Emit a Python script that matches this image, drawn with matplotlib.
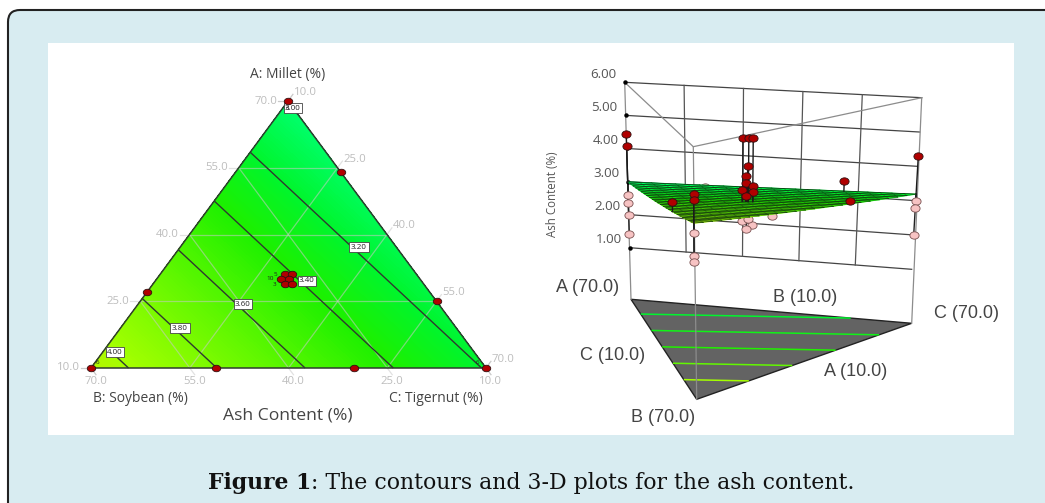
import numpy as np
import matplotlib
matplotlib.use("Agg")
import matplotlib.pyplot as plt
from matplotlib.colors import LinearSegmentedColormap, Normalize
from matplotlib.markers import MarkerStyle
from matplotlib.patches import FancyBboxPatch, Rectangle
from matplotlib.transforms import Affine2D
from matplotlib.tri import Triangulation

# values
corner_ash = [2.99, 4.085, 3.19]  # predicted ash at pure A, B, C corners
floor_ash = [3.02, 4.24, 3.25]  # same, as the floor projection shows it
contour_levels = [3.00, 3.20, 3.40, 3.60, 3.80, 4.00]
contour_labels = ["3.00", "3.20", "3.40", "3.60", "3.80", "4.00"]
tern_ticks = [10, 25, 40, 55, 70]

# design points on the ternary plot (percent)
design_a = [70, 54, 25, 10, 10, 27, 10, 10, 31.1, 31.1, 30, 30, 28.9, 28.9]
design_b = [10, 10, 10, 10, 30, 53, 51, 70, 30, 28.9, 31.1, 29.9, 31.1, 30]
design_c = [10, 26, 55, 70, 50, 10, 29, 10, 28.9, 30, 28.9, 30.1, 30, 31.1]

# runs above the surface in the 3-D plot
red_a = [70, 70, 10, 10, 10, 29.2, 25, 10, 30.7, 29.5, 28.6, 29.7, 30, 30, 28.6, 30.8, 28.6, 30]
red_b = [10, 10, 70, 70, 10, 50.8, 10, 28, 30, 30, 30, 30, 30, 30, 30, 30, 30, 30]
red_c = [10, 10, 10, 10, 70, 10, 55, 52, 29.3, 30.5, 31.4, 30.3, 30, 30, 31.4, 29.2, 31.4, 30]
red_z = [4.44, 4.06, 4.83, 4.66, 4.29, 3.98, 3.45, 3.55, 5.18, 5.18, 5.21, 4.40, 4.13, 3.94, 3.87, 3.73, 3.69, 3.57]

# runs below the surface
pink_a = [70, 70, 70, 70, 10, 10, 10, 10, 10, 10, 54, 10, 30.8, 28.8, 29.9, 29.6]
pink_b = [10, 10, 10, 10, 70, 70, 70, 10, 10, 10, 10, 49, 30, 30, 30, 30]
pink_c = [10, 10, 10, 10, 10, 10, 10, 70, 70, 70, 26, 31, 29.2, 31.2, 30.1, 30.4]
pink_z = [2.60, 2.34, 1.99, 1.41, 3.85, 3.28, 3.11, 2.99, 2.80, 2.01, 3.00, 3.73, 2.85, 2.76, 2.65, 2.94]

z_ticks = [1, 2, 3, 4, 5, 6]

# layout, in picture pixels
T_A, T_B, T_C = (288, 101), (91, 368), (486, 368)
P1 = np.array([(629.7, 247.7), (694.7, 346.7), (911.7, 269.3)])  # corners at z = 1
P6 = np.array([(624.7, 82.3), (693.3, 146.7), (921.7, 97.7)])  # corners at z = 6
FLOOR = np.array([(631, 299.3), (696.7, 399.3), (911.7, 323.3)])
GRID = "#c9c9c9"
LINE = "#2f3a2f"
DARKRED = "#b00000"
SANS = "Open Sans"
LABEL3D = "Liberation Sans"


def tern(a, b, c):
    # percent composition to pixels on the ternary triangle
    fa, fb, fc = (np.asarray(a) - 10) / 60, (np.asarray(b) - 10) / 60, (np.asarray(c) - 10) / 60
    return (fa * T_A[0] + fb * T_B[0] + fc * T_C[0], fa * T_A[1] + fb * T_B[1] + fc * T_C[1])


def proj(a, b, c, z):
    # percent composition and height to pixels in the 3-D view
    f = np.array([(np.asarray(a) - 10) / 60, (np.asarray(b) - 10) / 60, (np.asarray(c) - 10) / 60], dtype=float)
    t = (np.asarray(z, dtype=float) - 1) / 5
    x = sum(f[i] * (P1[i, 0] + t * (P6[i, 0] - P1[i, 0])) for i in range(3))
    y = sum(f[i] * (P1[i, 1] + t * (P6[i, 1] - P1[i, 1])) for i in range(3))
    return x, y


def surf(a, b, c):
    return ((np.asarray(a) - 10) * corner_ash[0] + (np.asarray(b) - 10) * corner_ash[1]
            + (np.asarray(c) - 10) * corner_ash[2]) / 60


fig = plt.figure(figsize=(10.45, 5.03), dpi=100, facecolor="white")
ax = fig.add_axes([0, 0, 1, 1])
ax.set_xlim(0, 1045)
ax.set_ylim(503, 0)
ax.axis("off")

ax.add_patch(FancyBboxPatch((8, 10), 1100, 520, boxstyle="round,pad=0,rounding_size=12",
                            fc="#d8ecf1", ec="#222222", lw=1.5, zorder=0))
ax.add_patch(Rectangle((48, 43), 966, 392, fc="white", ec="none", zorder=1))

# ---- ternary contour plot ----
cmap = LinearSegmentedColormap.from_list("ash", [
    (0.0, "#00ff6e"), (0.19, "#00f52e"), (0.37, "#1cf000"), (0.55, "#4cf500"),
    (0.73, "#78fa00"), (0.92, "#a4ff00"), (1.0, "#b4f500")])
norm = Normalize(2.99, 4.085)
tx, ty = tern([70, 10, 10], [10, 70, 10], [10, 10, 70])
tri = [[0, 1, 2]]
ax.tricontourf(tx, ty, tri, corner_ash, levels=np.linspace(2.99, 4.085, 120), cmap=cmap, norm=norm, zorder=2)
ax.tricontour(tx, ty, tri, corner_ash, levels=contour_levels, colors=LINE, linewidths=1.0, zorder=4)
ax.plot([tx[0], tx[1], tx[2], tx[0]], [ty[0], ty[1], ty[2], ty[0]], color=LINE, lw=1.1, zorder=5)

for v in tern_ticks:
    o = 80 - v
    # grid lines run across, the small stub sticks out past the edge
    xa, ya = tern([v, v], [o + 1.5, 10], [8.5, o])
    xb, yb = tern([8.5, o], [v, v], [o + 1.5, 10])
    xc, yc = tern([o + 1.5, 10], [8.5, o], [v, v])
    if 10 < v < 70:
        for gx, gy in [(xa, ya), (xb, yb), (xc, yc)]:
            ax.plot(gx, gy, color=GRID, lw=0.9, alpha=0.55, zorder=3)
    else:
        # only the stubs at the corners
        ax.plot(*tern([v, v], [o + 1.5, o], [8.5, 10]), color=GRID, lw=0.9, zorder=3)
        ax.plot(*tern([8.5, 10], [v, v], [o + 1.5, o]), color=GRID, lw=0.9, zorder=3)
        ax.plot(*tern([o + 1.5, o], [8.5, 10], [v, v]), color=GRID, lw=0.9, zorder=3)
    ax.text(xa[0] - 1, ya[0], "%.1f" % v, ha="right", va="center", color="#bdbdbd", fontsize=8.2, family=SANS, zorder=6)
    ax.text(xb[0] + 0, yb[0] + 7, "%.1f" % v, ha="center", va="center", color="#bdbdbd", fontsize=8.2, family=SANS, zorder=6)
    ax.text(xc[0] + 1, yc[0] - 2, "%.1f" % v, ha="left", va="center", color="#bdbdbd", fontsize=8.2, family=SANS, zorder=6)

box_x = [293, 359, 307, 243, 180, 115]
box_y = [108, 247, 281, 304, 328, 352]
for i in range(len(contour_labels)):
    ax.text(box_x[i], box_y[i], contour_labels[i], ha="center", va="center", fontsize=5.8, family=SANS, color="#222222",
            bbox=dict(boxstyle="square,pad=0.2", fc="white", ec="#444444", lw=0.6), zorder=7)

px, py = tern(design_a, design_b, design_c)
ax.scatter(px, py, s=22, marker=MarkerStyle("o", transform=Affine2D().scale(1.3, 1)), color=DARKRED, edgecolors="#301010",
           linewidths=0.6, zorder=8)

for txt, cx, cy in [("6", 98, 363), ("6", 478, 363), ("5", 275, 274), ("10", 270, 279), ("3", 275, 284), ("6", 288, 108)]:
    ax.text(cx, cy, txt, ha="center", va="center", fontsize=4.6, color="#222222", family=SANS, zorder=9)

ax.text(288, 74, "A: Millet (%)", ha="center", va="center", fontsize=10, color="#444444", family=SANS)
ax.text(140, 399, "B: Soybean (%)", ha="center", va="center", fontsize=10, color="#444444", family=SANS)
ax.text(436, 399, "C: Tigernut (%)", ha="center", va="center", fontsize=10, color="#444444", family=SANS)
ax.text(288, 416, "Ash Content (%)", ha="center", va="center", fontsize=12.6, color="#444444", family=SANS)

# ---- 3-D view ----
# floor triangle with its projected contour lines
fx, fy = FLOOR[:, 0], FLOOR[:, 1]
ax.fill(fx, fy, fc="#636363", ec="#222222", lw=1.0, zorder=2)
floor_cmap = LinearSegmentedColormap.from_list("floor", ["#00f52e", "#20f000", "#a4ff00"])
ax.tricontour(fx, fy, tri, floor_ash, levels=contour_levels[1:], cmap=floor_cmap, linewidths=1.1, zorder=3)

# back wall grid
for v in z_ticks:
    x0, y0 = proj(70, 10, 10, v)
    x1, y1 = proj(10, 10, 70, v)
    ax.plot([x0, x1], [y0, y1], color="#444444", lw=0.9, zorder=2)
    ax.plot(x0, y0, "o", ms=2.2, color="black", zorder=6)
    ax.text(x0 - 8, y0 - 8, "%.2f" % v, ha="right", va="center", fontsize=9.6, color="#555555", family=SANS, zorder=6)
for f in [0.2, 0.4, 0.6, 0.8]:
    ca = 10 + 60 * f
    x0, y0 = proj(70 - 60 * f, 10, ca, 1)
    x1, y1 = proj(70 - 60 * f, 10, ca, 6)
    ax.plot([x0, x1], [y0, y1], color="#555555", lw=0.9, zorder=2)

# roof and the three uprights
for i in range(3):
    ax.plot([P6[i, 0], FLOOR[i, 0]], [P6[i, 1], FLOOR[i, 1]], color="#8c8c8c", lw=0.9, zorder=4)
ax.plot([P6[0, 0], P6[1, 0], P6[2, 0]], [P6[0, 1], P6[1, 1], P6[2, 1]], color="#8c8c8c", lw=0.9, zorder=2)

marker = MarkerStyle("o", transform=Affine2D().scale(1.25, 1))

# points under the surface go first, it hides them partly
xs, ys = proj(pink_a, pink_b, pink_c, pink_z)
xt, yt = proj(pink_a, pink_b, pink_c, surf(pink_a, pink_b, pink_c))
for i in range(len(pink_z)):
    ax.plot([xs[i], xt[i]], [ys[i], yt[i]], color="#222222", lw=1.0, zorder=5)
ax.scatter(xs, ys, s=28, marker=marker, color="#f7c3c3", edgecolors="#7a5050", linewidths=0.6, zorder=6)

# surface mesh
N = 24
nodes_a, nodes_b, nodes_c = [], [], []
index = {}
for i in range(N + 1):
    for j in range(N + 1 - i):
        index[(i, j)] = len(nodes_a)
        nodes_a.append(10 + 60 * i / N)
        nodes_b.append(10 + 60 * j / N)
        nodes_c.append(10 + 60 * (N - i - j) / N)
faces = []
for i in range(N):
    for j in range(N - i):
        faces.append([index[(i, j)], index[(i + 1, j)], index[(i, j + 1)]])
        if i + j < N - 1:
            faces.append([index[(i + 1, j)], index[(i + 1, j + 1)], index[(i, j + 1)]])
nz = surf(nodes_a, nodes_b, nodes_c)
nx, ny = proj(nodes_a, nodes_b, nodes_c, nz)
mesh = Triangulation(nx, ny, faces)
ax.tripcolor(mesh, nz, shading="gouraud", cmap=cmap, norm=norm, zorder=7)
ax.triplot(mesh, color="#0f3a0f", lw=0.3, alpha=0.6, zorder=7)
# the lines along the A-C side read much darker in the picture
for j in range(N):
    row = [index[(i, j)] for i in range(N + 1 - j)]
    ax.plot(nx[row], ny[row], color="#0f2f0f", lw=0.6, alpha=0.85, zorder=7)

xs, ys = proj(red_a, red_b, red_c, red_z)
xt, yt = proj(red_a, red_b, red_c, surf(red_a, red_b, red_c))
for i in range(len(red_z)):
    ax.plot([xs[i], xt[i]], [ys[i], yt[i]], color="#1a1a1a", lw=1.0, zorder=8)
ax.scatter(xs, ys, s=28, marker=marker, color=DARKRED, edgecolors="#301010", linewidths=0.6, zorder=9)

ax.text(552, 194, "Ash Content (%)", rotation=90, ha="center", va="center", fontsize=8.3, color="#555555", family=SANS)
ax.text(588, 288, "A (70.0)", ha="center", va="center", fontsize=13, color="#444444", family=LABEL3D)
ax.text(805, 298, "B (10.0)", ha="center", va="center", fontsize=13, color="#444444", family=LABEL3D)
ax.text(967, 314, "C (70.0)", ha="center", va="center", fontsize=13, color="#444444", family=LABEL3D)
ax.text(613, 355, "C (10.0)", ha="center", va="center", fontsize=13, color="#444444", family=LABEL3D)
ax.text(856, 372, "A (10.0)", ha="center", va="center", fontsize=13, color="#444444", family=LABEL3D)
ax.text(663, 418, "B (70.0)", ha="center", va="center", fontsize=13, color="#444444", family=LABEL3D)

# caption, bold part first then the rest right behind it
bold = ax.text(208, 483, "Figure 1", ha="left", va="center", fontsize=15.8, fontweight="bold", family="DejaVu Serif", color="#111111")
fig.canvas.draw()
bb = bold.get_window_extent()
ax.text(bb.x1, 483, ": The contours and 3-D plots for the ash content.", ha="left", va="center", fontsize=15.8, family="DejaVu Serif", color="#111111")

fig.savefig("out.png", dpi=100)
